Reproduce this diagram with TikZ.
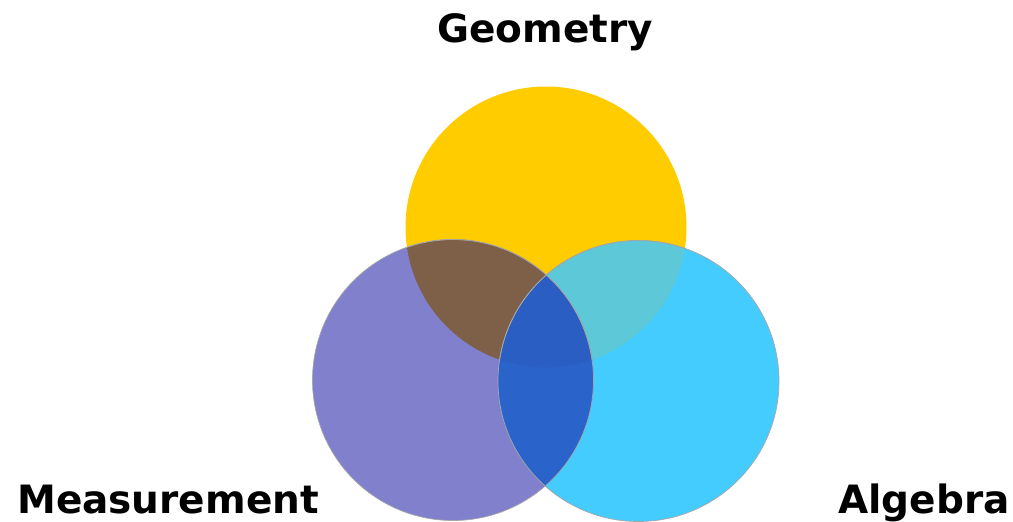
\documentclass[tikz,border=0pt]{standalone}
\usepackage{fontspec}
\setmainfont{DejaVu Sans}
\begin{document}
\begin{tikzpicture}[x=1pt,y=-1pt,
  lbl/.style={font=\fontsize{39}{44}\selectfont\bfseries, inner sep=0pt, text=black},
  rim/.style={draw=black!35, line width=0.7pt}]
\definecolor{geo}{HTML}{FFCC00}
\definecolor{mea}{HTML}{8080CC}
\definecolor{alg}{HTML}{44CCFF}
\definecolor{gm}{HTML}{7E6048}
\definecolor{ga}{HTML}{5CC8D8}
\definecolor{ma}{HTML}{2A64CA}
\definecolor{gma}{HTML}{2A5EC2}
\useasboundingbox (0,0) rectangle (1013,522);
\def\R{140.5}
\coordinate (cg) at (546,227);
\coordinate (cm) at (453,380);
\coordinate (ca) at (638.5,381);
% single fills
\fill[geo] (cg) circle (\R);
\fill[mea] (cm) circle (\R);
\fill[alg] (ca) circle (\R);
% pairwise
\begin{scope}
  \clip (cg) circle (\R);
  \fill[gm] (cm) circle (\R);
\end{scope}
\begin{scope}
  \clip (cg) circle (\R);
  \fill[ga] (ca) circle (\R);
\end{scope}
\begin{scope}
  \clip (cm) circle (\R);
  \fill[ma] (ca) circle (\R);
\end{scope}
\begin{scope}
  \clip (cg) circle (\R);
  \clip (cm) circle (\R);
  \fill[gma] (ca) circle (\R);
\end{scope}
% rims
\draw[rim] (cm) circle (\R);
\draw[rim] (ca) circle (\R);
\begin{scope}
  \clip (cg) circle (\R);
  \draw[rim] (cm) circle (\R);
  \draw[rim] (ca) circle (\R);
\end{scope}
% labels
\node[lbl, anchor=base] (lg) at (545,42) {Geometry};
\node[lbl, anchor=base west] (lm) at (17,513) {Measurement};
\node[lbl, anchor=base west] (la) at (838,513) {Algebra};
\end{tikzpicture}
\end{document}
